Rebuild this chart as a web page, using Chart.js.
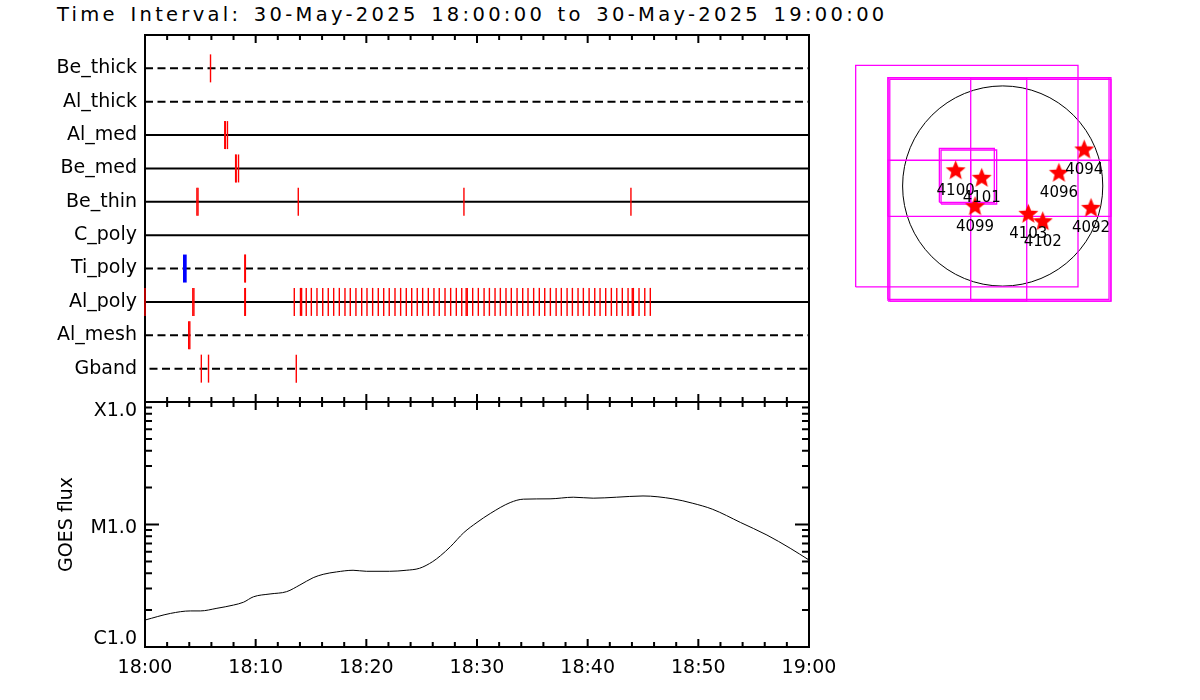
<!DOCTYPE html>
<html>
<head>
<meta charset="utf-8">
<title>XRT filter timeline</title>
<script src="https://cdn.jsdelivr.net/npm/chart.js@4.4.1/dist/chart.umd.min.js"></script>
<style>
  html, body { margin: 0; padding: 0; background: #fff; }
  #wrap { position: relative; width: 1200px; height: 700px; overflow: hidden; background: #fff; }
  canvas { position: absolute; }
  #title {
    position: absolute; left: 57px; top: 5px;
    font-family: "DejaVu Sans"; font-size: 19.5px; line-height: 19px;
    letter-spacing: 3.3px; word-spacing: 3px; white-space: nowrap; color: #000;
  }
</style>
</head>
<body>
<div id="wrap">
  <div id="title">Time Interval: 30-May-2025 18:00:00 to 30-May-2025 19:00:00</div>
  <canvas id="filterChart" width="850" height="430" style="left:0;top:0"></canvas>
  <canvas id="goesChart" width="850" height="320" style="left:0;top:380px"></canvas>
  <canvas id="mapChart" width="290" height="270" style="left:840px;top:50px"></canvas>
</div>
<script>
/***************************************************
 * XRT観測タイムライン + GOESフラックス + 太陽面マップ
 ****************************************************/

// 時刻ラベル (18:00 からの経過分に変換して使う)
const TIME_LABELS = ["18:00", "18:10", "18:20", "18:30", "18:40", "18:50", "19:00"];

// フィルター名 (上から順)
const FILTERS = ["Be_thick", "Al_thick", "Al_med", "Be_med", "Be_thin", "C_poly", "Ti_poly", "Al_poly", "Al_mesh", "Gband"];

// 各フィルターの露光時刻 (18:00 からの分)
const beThickTimes = [5.92];
const alThickTimes = [];
const alMedTimes = [7.21, 7.26, 7.45];
const beMedTimes = [8.19, 8.24, 8.45];
const beThinTimes = [4.69, 4.79, 13.85, 28.82, 43.91];
const cPolyTimes = [];
const tiPolyTimes = [9.02, 9.07];
const alPolyTimes = [
  0.0, 4.32, 4.42, 9.02, 9.07,
  13.49, 14.05, 14.15, 14.57, 15.03, 15.54, 16.06, 16.56, 17.05, 17.56, 18.07, 18.55,
  19.06, 19.58, 20.06, 20.57, 21.08, 21.57, 22.07, 22.59, 23.10, 23.61, 24.10, 24.60,
  25.09, 25.60, 26.11, 26.59, 27.11, 27.62, 28.13, 28.62, 29.02, 29.12, 29.61, 30.12,
  30.64, 31.12, 31.63, 32.11, 32.62, 33.10, 33.62, 34.13, 34.61, 35.12, 35.63, 36.12,
  36.63, 37.15, 37.62, 38.14, 38.62, 39.13, 39.61, 40.13, 40.64, 41.12, 41.63, 42.14,
  42.63, 43.13, 43.65, 44.03, 44.13, 44.64, 45.16, 45.66
];
const alMeshTimes = [3.95, 4.05];
const gbandTimes = [5.09, 5.74, 13.67];
// Ti_poly の青い露光
const tiPolyBlueTimes = [3.60];

// GOES X線フラックス
const goesMinutes = [0, 2.3, 4.1, 5.0, 6.5, 8.0, 8.9, 9.8, 11.3, 12.8, 14.0, 15.2, 16.1, 17.3, 18.8, 20.0, 22.1, 23.6, 24.8, 26.0,
  26.7, 27.6, 28.8, 30.0, 31.2, 33.0, 34.2, 36.6, 38.7, 40.5, 42.6, 45.0, 47.7, 49.5, 51.3, 53.8, 56.2, 58.3, 60.0];
const goesFlux = [1.66e-6, 1.88e-6, 1.97e-6, 1.97e-6, 2.07e-6, 2.20e-6, 2.32e-6, 2.57e-6, 2.71e-6, 2.83e-6,
  3.21e-6, 3.68e-6, 3.92e-6, 4.10e-6, 4.23e-6, 4.15e-6, 4.15e-6, 4.23e-6, 4.39e-6, 4.98e-6,
  5.56e-6, 6.59e-6, 8.57e-6, 1.04e-5, 1.23e-5, 1.51e-5, 1.61e-5, 1.62e-5, 1.67e-5, 1.64e-5,
  1.67e-5, 1.71e-5, 1.62e-5, 1.49e-5, 1.33e-5, 1.04e-5, 8.2e-6, 6.4e-6, 5.13e-6];
const GOES_CLASS_VALUES = [1e-6, 1e-5, 1e-4];
const GOES_CLASS_LABELS = ["C1.0", "M1.0", "X1.0"];

// 活動領域 (arcsec)
const AR_NUMBERS = ["4100", "4101", "4099", "4103", "4102", "4096", "4094", "4092"];
const AR_X = [-444, -198, -261, 242, 378, 531, 770, 834];
const AR_Y = [144, 73, -195, -267, -337, 120, 340, -211];
const SUN_RADIUS = 945;

// 視野枠 (arcsec)
const FOV_X0 = [-1388, -1083, -1066, -1083, -302, -1083, -302, -598, -582];
const FOV_X1 = [711, 1004, 1022, 227, 1022, 227, 1022, -79, -57];
const FOV_Y0 = [-953, -1070, -1086, -286, -286, -1086, -1086, -154, -170];
const FOV_Y1 = [1139, 1022, 1007, 1022, 1022, 243, 243, 356, 340];

const FONT = "DejaVu Sans";
const filterTimes = [beThickTimes, alThickTimes, alMedTimes, beMedTimes, beThinTimes,
  cPolyTimes, tiPolyTimes, alPolyTimes, alMeshTimes, gbandTimes];
const dashedRows = ["Be_thick", "Al_thick", "Ti_poly", "Al_mesh", "Gband"];

/**
 * "18:10" → 10 (分)
 */
function labelToMinutes(label) {
  const [h, m] = label.split(":").map(Number);
  return (h - 18) * 60 + m;
}

/**
 * フィルター名 → y座標 (上が大きい)
 */
function rowValue(name) {
  return FILTERS.length - FILTERS.indexOf(name);
}

/**
 * 時間軸の目盛り (内向き) を上下に描く
 */
function drawTimeTicks(ctx, xScale, a) {
  for (let m = 0; m <= 60; m += 2) {
    const px = xScale.getPixelForValue(m);
    const len = m % 10 === 0 ? 8 : 5;
    ctx.beginPath();
    ctx.moveTo(px, a.top);
    ctx.lineTo(px, a.top + len);
    ctx.moveTo(px, a.bottom);
    ctx.lineTo(px, a.bottom - len);
    ctx.stroke();
  }
}

// 上段パネルの枠
const filterFramePlugin = {
  id: "filterFrame",
  beforeDatasetsDraw(chart) {
    const { ctx, chartArea: a, scales } = chart;
    ctx.save();
    ctx.strokeStyle = "#000";
    ctx.lineWidth = 2;
    ctx.strokeRect(a.left, a.top, a.right - a.left, a.bottom - a.top);
    drawTimeTicks(ctx, scales.x, a);
    ctx.restore();
  }
};

// 下段パネルの枠・対数目盛り・クラスラベル
const goesFramePlugin = {
  id: "goesFrame",
  afterDatasetsDraw(chart) {
    const { ctx, chartArea: a, scales } = chart;
    ctx.save();
    ctx.strokeStyle = "#000";
    ctx.lineWidth = 2;
    ctx.strokeRect(a.left, a.top, a.right - a.left, a.bottom - a.top);
    drawTimeTicks(ctx, scales.x, a);
    const lo = GOES_CLASS_VALUES[0];
    const hi = GOES_CLASS_VALUES[GOES_CLASS_VALUES.length - 1];
    for (let dec = lo; dec <= hi; dec *= 10) {
      for (let k = 1; k < 10; k++) {
        const v = dec * k;
        if (v > hi * 1.0001) break;
        const py = scales.y.getPixelForValue(v);
        const len = k === 1 ? 14 : 7;
        ctx.beginPath();
        ctx.moveTo(a.left, py);
        ctx.lineTo(a.left + len, py);
        ctx.moveTo(a.right, py);
        ctx.lineTo(a.right - len, py);
        ctx.stroke();
      }
    }
    ctx.fillStyle = "#000";
    ctx.font = `19px "${FONT}"`;
    ctx.textAlign = "right";
    ctx.textBaseline = "alphabetic";
    GOES_CLASS_VALUES.forEach((v, i) => {
      const py = scales.y.getPixelForValue(v);
      const base = Math.min(Math.max(py + 8, a.top + 14), a.bottom - 3);
      ctx.fillText(GOES_CLASS_LABELS[i], a.left - 8, base);
    });
    ctx.restore();
  }
};

// 太陽の縁 (円)
const limbPlugin = {
  id: "limb",
  beforeDatasetsDraw(chart) {
    const { ctx, scales } = chart;
    const cx = scales.x.getPixelForValue(0);
    const cy = scales.y.getPixelForValue(0);
    const r = scales.x.getPixelForValue(SUN_RADIUS) - cx;
    ctx.save();
    ctx.strokeStyle = "#000";
    ctx.lineWidth = 1;
    ctx.beginPath();
    ctx.arc(cx, cy, r, 0, Math.PI * 2);
    ctx.stroke();
    ctx.restore();
  }
};

// 活動領域の番号
const arLabelPlugin = {
  id: "arLabels",
  afterDatasetsDraw(chart) {
    const { ctx } = chart;
    const meta = chart.getDatasetMeta(0);
    ctx.save();
    ctx.fillStyle = "#000";
    ctx.font = `15px "${FONT}"`;
    ctx.textAlign = "center";
    ctx.textBaseline = "middle";
    meta.data.forEach((pt, i) => {
      ctx.fillText(AR_NUMBERS[i], pt.x, pt.y + 20);
    });
    ctx.restore();
  }
};

/**
 * 赤い星のマーカー画像を作る
 */
function makeStar(outer, inner, color) {
  const size = Math.ceil(outer * 2 + 2);
  const c = document.createElement("canvas");
  c.width = size;
  c.height = size;
  const g = c.getContext("2d");
  g.translate(size / 2, size / 2);
  g.beginPath();
  for (let i = 0; i < 10; i++) {
    const r = i % 2 === 0 ? outer : inner;
    const ang = -Math.PI / 2 + (i * Math.PI) / 5;
    g.lineTo(r * Math.cos(ang), r * Math.sin(ang));
  }
  g.closePath();
  g.fillStyle = color;
  g.fill();
  return c;
}

function init() {
  Chart.defaults.font.family = FONT;
  Chart.defaults.color = "#000";

  // ---------- 上段: フィルター別タイムライン ----------
  const redMarks = [];
  FILTERS.forEach((name, i) => {
    filterTimes[i].forEach((t) => redMarks.push({ x: t, y: rowValue(name) }));
  });
  const blueMarks = tiPolyBlueTimes.map((t) => ({ x: t, y: rowValue("Ti_poly") }));

  const rowLines = FILTERS.map((name) => {
    const dashed = dashedRows.includes(name);
    return {
      data: [{ x: 0, y: rowValue(name) }, { x: 60, y: rowValue(name) }],
      showLine: true,
      borderColor: "#000",
      borderWidth: 2,
      borderDash: dashed ? [8, 4.5] : [],
      borderDashOffset: name === "Gband" ? 8 : 0,
      pointRadius: 0,
      clip: false
    };
  });

  const markStyle = {
    pointStyle: "line",
    rotation: 90,
    radius: 14,
    showLine: false,
    clip: false
  };

  new Chart(document.getElementById("filterChart"), {
    type: "scatter",
    data: {
      datasets: [
        { ...markStyle, data: blueMarks, borderColor: "#0000ff", borderWidth: 3.7 },
        { ...markStyle, data: redMarks, borderColor: "#ff0000", borderWidth: 1.4 },
        ...rowLines
      ]
    },
    options: {
      responsive: false,
      animation: false,
      devicePixelRatio: 1,
      // 下のパディングはラベル分の自動余白より大きくしておく
      layout: { padding: { top: 35, right: 41, bottom: 28, left: 0 }, autoPadding: false },
      plugins: { legend: { display: false }, tooltip: { enabled: false } },
      scales: {
        x: { type: "linear", min: 0, max: 60, display: false },
        y: {
          type: "linear",
          min: 0,
          max: FILTERS.length + 1,
          grid: { display: false, drawTicks: false },
          border: { display: false },
          afterBuildTicks: (scale) => {
            scale.ticks = FILTERS.map((name) => ({ value: rowValue(name) }));
          },
          afterFit: (scale) => {
            scale.width = 145;
          },
          ticks: {
            autoSkip: false,
            padding: 8,
            color: "#000",
            font: { family: FONT, size: 19 },
            callback: (v) => FILTERS[FILTERS.length - v]
          }
        }
      }
    },
    plugins: [filterFramePlugin]
  });

  // ---------- 下段: GOES フラックス ----------
  new Chart(document.getElementById("goesChart"), {
    type: "line",
    data: {
      datasets: [{
        data: goesMinutes.map((m, i) => ({ x: m, y: goesFlux[i] })),
        borderColor: "#000",
        borderWidth: 1,
        pointRadius: 0,
        cubicInterpolationMode: "monotone",
        fill: false
      }]
    },
    options: {
      responsive: false,
      animation: false,
      devicePixelRatio: 1,
      layout: { padding: { top: 22, right: 41, bottom: 13, left: 0 }, autoPadding: false },
      plugins: { legend: { display: false }, tooltip: { enabled: false } },
      scales: {
        x: {
          type: "linear",
          min: 0,
          max: 60,
          grid: { display: false, drawTicks: false },
          border: { display: false },
          afterBuildTicks: (scale) => {
            scale.ticks = TIME_LABELS.map((l) => ({ value: labelToMinutes(l) }));
          },
          afterFit: (scale) => {
            scale.height = 40;
          },
          ticks: {
            autoSkip: false,
            maxRotation: 0,
            padding: 10,
            color: "#000",
            font: { family: FONT, size: 19 },
            callback: (v, i) => TIME_LABELS[i]
          }
        },
        y: {
          type: "logarithmic",
          min: GOES_CLASS_VALUES[0],
          max: GOES_CLASS_VALUES[GOES_CLASS_VALUES.length - 1],
          grid: { display: false, drawTicks: false },
          border: { display: false },
          ticks: { display: false },
          afterFit: (scale) => {
            scale.width = 145;
          },
          title: {
            display: true,
            text: "GOES flux",
            color: "#000",
            font: { family: FONT, size: 19 },
            padding: { top: 56, bottom: 0 }
          }
        }
      }
    },
    plugins: [goesFramePlugin]
  });

  // ---------- 右: 太陽面マップ ----------
  const boxes = FOV_X0.map((x0, i) => ({
    data: [
      { x: x0, y: FOV_Y0[i] },
      { x: FOV_X1[i], y: FOV_Y0[i] },
      { x: FOV_X1[i], y: FOV_Y1[i] },
      { x: x0, y: FOV_Y1[i] },
      { x: x0, y: FOV_Y0[i] }
    ],
    showLine: true,
    borderColor: "#ff00ff",
    borderWidth: 1.3,
    pointRadius: 0,
    clip: false
  }));

  new Chart(document.getElementById("mapChart"), {
    type: "scatter",
    data: {
      datasets: [
        {
          data: AR_X.map((x, i) => ({ x: x, y: AR_Y[i] })),
          pointStyle: makeStar(10.5, 4.6, "#ff0000"),
          clip: false
        },
        ...boxes
      ]
    },
    options: {
      responsive: false,
      animation: false,
      devicePixelRatio: 1,
      layout: { padding: 0, autoPadding: false },
      plugins: { legend: { display: false }, tooltip: { enabled: false } },
      scales: {
        x: { type: "linear", min: -1536, max: 1202, display: false },
        y: { type: "linear", min: -1265, max: 1284, display: false }
      }
    },
    plugins: [limbPlugin, arLabelPlugin]
  });
}

window.addEventListener("DOMContentLoaded", init);
</script>
</body>
</html>
